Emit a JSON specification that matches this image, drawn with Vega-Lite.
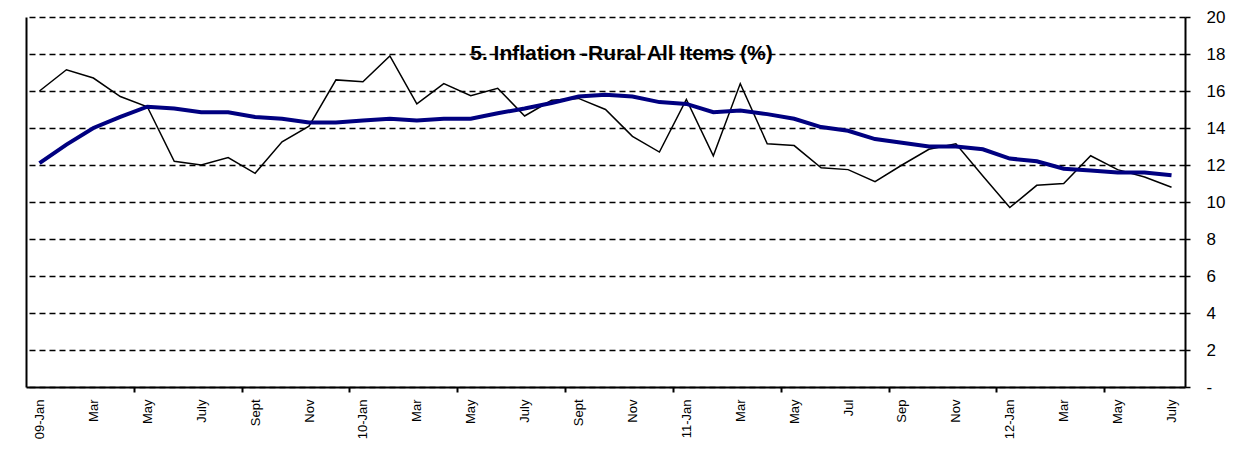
{
  "$schema": "https://vega.github.io/schema/vega-lite/v6.json",
  "width": 1159,
  "height": 370,
  "autosize": {"type": "none"},
  "padding": {"left": 26, "top": 17, "right": 61, "bottom": 69},
  "background": "white",
  "config": {"view": {"stroke": null}, "font": "Liberation Sans"},
  "title": {
    "text": "5. Inflation -Rural All Items (%)",
    "fontSize": 21,
    "fontWeight": "bold",
    "font": "Liberation Sans",
    "color": "black",
    "frame": "group",
    "anchor": "middle",
    "baseline": "alphabetic",
    "offset": -73,
    "dx": 16
  },
  "data": {
    "values": [
      {"i": 0, "month": "2009-01", "rural": 16.0, "avg": 12.1},
      {"i": 1, "month": "2009-02", "rural": 17.15, "avg": 13.1},
      {"i": 2, "month": "2009-03", "rural": 16.7, "avg": 14.0},
      {"i": 3, "month": "2009-04", "rural": 15.7, "avg": 14.6},
      {"i": 4, "month": "2009-05", "rural": 15.15, "avg": 15.15},
      {"i": 5, "month": "2009-06", "rural": 12.2, "avg": 15.05},
      {"i": 6, "month": "2009-07", "rural": 12.0, "avg": 14.85},
      {"i": 7, "month": "2009-08", "rural": 12.4, "avg": 14.85},
      {"i": 8, "month": "2009-09", "rural": 11.55, "avg": 14.6},
      {"i": 9, "month": "2009-10", "rural": 13.25, "avg": 14.5},
      {"i": 10, "month": "2009-11", "rural": 14.1, "avg": 14.3},
      {"i": 11, "month": "2009-12", "rural": 16.6, "avg": 14.3},
      {"i": 12, "month": "2010-01", "rural": 16.5, "avg": 14.4},
      {"i": 13, "month": "2010-02", "rural": 17.9, "avg": 14.5},
      {"i": 14, "month": "2010-03", "rural": 15.3, "avg": 14.4},
      {"i": 15, "month": "2010-04", "rural": 16.4, "avg": 14.5},
      {"i": 16, "month": "2010-05", "rural": 15.75, "avg": 14.5},
      {"i": 17, "month": "2010-06", "rural": 16.15, "avg": 14.8},
      {"i": 18, "month": "2010-07", "rural": 14.65, "avg": 15.05},
      {"i": 19, "month": "2010-08", "rural": 15.5, "avg": 15.35},
      {"i": 20, "month": "2010-09", "rural": 15.6, "avg": 15.7},
      {"i": 21, "month": "2010-10", "rural": 15.0, "avg": 15.8},
      {"i": 22, "month": "2010-11", "rural": 13.55, "avg": 15.7},
      {"i": 23, "month": "2010-12", "rural": 12.7, "avg": 15.4},
      {"i": 24, "month": "2011-01", "rural": 15.55, "avg": 15.3},
      {"i": 25, "month": "2011-02", "rural": 12.5, "avg": 14.85},
      {"i": 26, "month": "2011-03", "rural": 16.4, "avg": 14.95},
      {"i": 27, "month": "2011-04", "rural": 13.15, "avg": 14.75},
      {"i": 28, "month": "2011-05", "rural": 13.05, "avg": 14.5},
      {"i": 29, "month": "2011-06", "rural": 11.85, "avg": 14.05},
      {"i": 30, "month": "2011-07", "rural": 11.75, "avg": 13.85},
      {"i": 31, "month": "2011-08", "rural": 11.1, "avg": 13.4},
      {"i": 32, "month": "2011-09", "rural": 12.0, "avg": 13.2},
      {"i": 33, "month": "2011-10", "rural": 12.85, "avg": 13.0},
      {"i": 34, "month": "2011-11", "rural": 13.15, "avg": 13.0},
      {"i": 35, "month": "2011-12", "rural": 11.4, "avg": 12.85},
      {"i": 36, "month": "2012-01", "rural": 9.7, "avg": 12.35},
      {"i": 37, "month": "2012-02", "rural": 10.9, "avg": 12.2},
      {"i": 38, "month": "2012-03", "rural": 11.0, "avg": 11.8},
      {"i": 39, "month": "2012-04", "rural": 12.5, "avg": 11.7},
      {"i": 40, "month": "2012-05", "rural": 11.75, "avg": 11.6},
      {"i": 41, "month": "2012-06", "rural": 11.35, "avg": 11.6},
      {"i": 42, "month": "2012-07", "rural": 10.8, "avg": 11.45}
    ]
  },
  "encoding": {
    "x": {
      "field": "i",
      "type": "ordinal",
      "scale": {"type": "band", "paddingInner": 0, "paddingOuter": 0},
      "axis": {
        "title": null,
        "labelAngle": -90,
        "labelFontSize": 13,
        "labelColor": "black",
        "labelPadding": 7,
        "labelOverlap": false,
        "labelExpr": "['09-Jan','','Mar','','May','','July','','Sept','','Nov','','10-Jan','','Mar','','May','','July','','Sept','','Nov','','11-Jan','','Mar','','May','','Jul','','Sep','','Nov','','12-Jan','','Mar','','May','','July'][datum.value]",
        "tickBand": "extent",
        "tickSize": 5,
        "tickWidth": 2,
        "tickColor": "black",
        "tickOpacity": {"condition": {"test": "datum.value % 4 == 3", "value": 1}, "value": 0},
        "domainColor": "black",
        "domainWidth": 2,
        "grid": false
      }
    }
  },
  "layer": [
    {
      "mark": {"type": "line", "color": "black", "strokeWidth": 1.5},
      "encoding": {
        "y": {
          "field": "rural",
          "type": "quantitative",
          "scale": {"domain": [0, 20], "nice": false},
          "axis": {
            "orient": "right",
            "title": null,
            "values": [0, 2, 4, 6, 8, 10, 12, 14, 16, 18, 20],
            "labelFontSize": 17,
            "labelColor": "black",
            "labelPadding": 16,
            "labelExpr": "datum.value == 0 ? '-' : datum.label",
            "tickSize": 5,
            "tickWidth": 1.5,
            "tickColor": "black",
            "domainColor": "black",
            "domainWidth": 2,
            "grid": true,
            "gridColor": "black",
            "gridOpacity": 1,
            "gridDash": [6, 4],
            "gridWidth": 1.5
          }
        }
      }
    },
    {
      "mark": {"type": "line", "color": "#000080", "strokeWidth": 4},
      "encoding": {
        "y": {
          "field": "avg",
          "type": "quantitative",
          "scale": {"domain": [0, 20], "nice": false},
          "axis": {
            "orient": "left",
            "title": null,
            "labels": false,
            "ticks": false,
            "grid": false,
            "domainColor": "black",
            "domainWidth": 2
          }
        }
      }
    }
  ],
  "resolve": {"axis": {"y": "independent"}}
}
